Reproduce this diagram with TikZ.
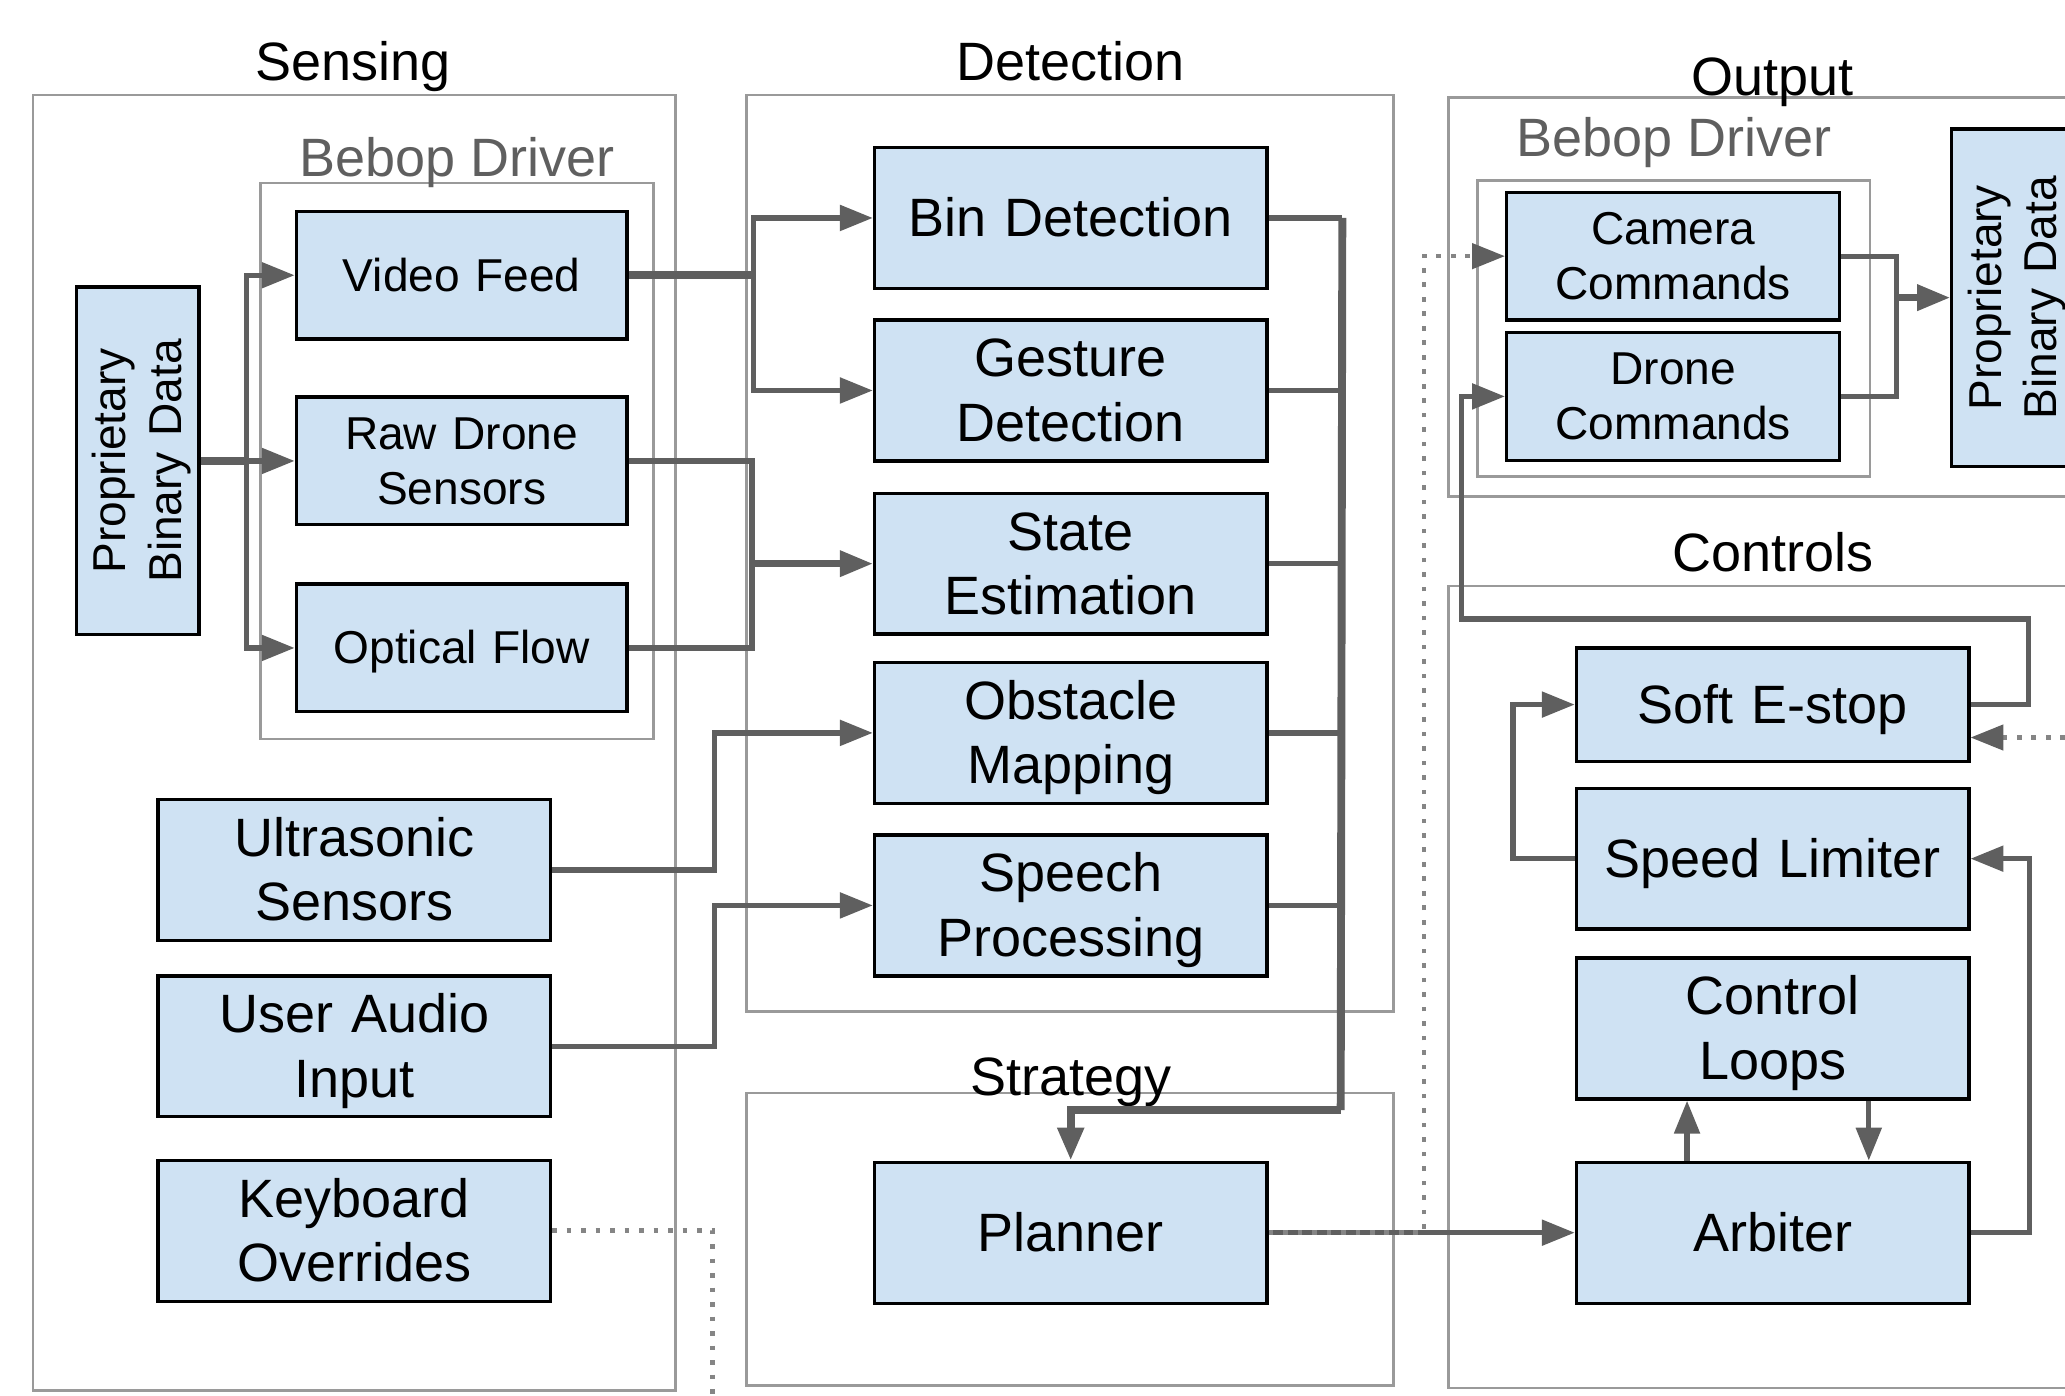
\documentclass[tikz,border=0pt]{standalone}
\usepackage{fontspec}
\setmainfont{Liberation Sans}
\usetikzlibrary{arrows.meta, positioning}

\definecolor{boxblue}{HTML}{CFE2F3}
\definecolor{linegray}{HTML}{5F5F5F}
\definecolor{framegray}{HTML}{9A9A9A}
\definecolor{dotgray}{HTML}{858585}

\begin{document}
\begin{tikzpicture}[x=1pt, y=-1pt,
        block/.style={draw, rectangle, line width=2.5pt, fill=boxblue, align=center, inner sep=0pt, font=\fontsize{41}{49}\selectfont, text width=298pt, minimum height=107pt,
            execute at begin node={\rule{0pt}{0.9em}}, execute at end node={\rule[-0.21em]{0pt}{0pt}}},
        small/.style={block, font=\fontsize{35}{42}\selectfont, text width=251pt, minimum height=97pt},
        group/.style={draw=framegray, line width=2pt},
        title/.style={font=\fontsize{41}{49}\selectfont, execute at begin node={\rule{0pt}{0.9em}}, execute at end node={\rule[-0.21em]{0pt}{0pt}}},
        subtitle/.style={title, text=linegray},
        wire/.style={draw=linegray, line width=4pt},
        bus/.style={wire, line width=6pt},
        arrow/.style={wire, -{Triangle[length=25pt, width=19pt]}},
        hint/.style={draw=dotgray, line width=3.5pt, dash pattern=on 3.5pt off 7.5pt}
    ]
        \useasboundingbox (0,0) rectangle (1568,1060);
        \clip (0,0) rectangle (1568,1060);

        % group frames
        \draw[group] (25,72) rectangle (513,1056);
        \draw[group] (198,139) rectangle (496,561);
        \draw[group] (567,72) rectangle (1058,768);
        \draw[group] (567,830) rectangle (1058,1052);
        \draw[group] (1100,74) rectangle (1590,377);
        \draw[group] (1122,137) rectangle (1420,362);
        \draw[group] (1100,445) rectangle (1590,1054);

        \node[title] (tsense) at (268,47) {Sensing};
        \node[title] (tdetect) at (813,47) {Detection};
        \node[title] (tout) at (1346,58) {Output};
        \node[title] (tstrat) at (813,818) {Strategy};
        \node[title] (tctrl) at (1346,420) {Controls};
        \node[subtitle] (tbebopL) at (347,120) {Bebop Driver};
        \node[subtitle] (tbebopR) at (1271,105) {Bebop Driver};

        % sensing
        \node[small, rotate=90, text width=264pt, minimum height=93pt] (pbdL) at (104.5,350) {Proprietary\\Binary Data};
        \node[small] (vid) at (350.5,209) {Video Feed};
        \node[small] (raw) at (350.5,350) {Raw Drone\\Sensors};
        \node[small] (opt) at (350.5,492) {Optical Flow};
        \node[block] (ultra) at (269,660.5) {Ultrasonic\\Sensors};
        \node[block] (audio) at (269,794.5) {User Audio\\Input};
        \node[block] (keys) at (269,934.5) {Keyboard\\Overrides};

        % detection and strategy
        \node[block] (bin) at (813,165.5) {Bin Detection};
        \node[block] (gest) at (813,296.5) {Gesture\\Detection};
        \node[block] (state) at (813,428) {State\\Estimation};
        \node[block] (obst) at (813,556.5) {Obstacle\\Mapping};
        \node[block] (speech) at (813,687.5) {Speech\\Processing};
        \node[block] (plan) at (813,936) {Planner};

        % output
        \node[small, text width=253pt] (cam) at (1270.5,194.5) {Camera\\Commands};
        \node[small, text width=253pt] (drone) at (1270.5,301) {Drone\\Commands};
        \node[small, rotate=90, text width=256pt, minimum height=93pt] (pbdR) at (1528.5,226) {Proprietary\\Binary Data};

        % controls
        \node[block, minimum height=86pt] (estop) at (1346,535) {Soft E-stop};
        \node[block] (speed) at (1346,652) {Speed Limiter};
        \node[block] (loops) at (1346,781) {Control\\Loops};
        \node[block] (arb) at (1346,936) {Arbiter};

        % driver fan-out
        \draw[bus] (pbdL.south) -- ++(35,0) coordinate (fanL);
        \draw[arrow] (fanL) |- (vid.west);
        \draw[arrow] (fanL) -- (raw.west);
        \draw[arrow] (fanL) |- (opt.west);

        \draw[bus] (vid.east) -- ++(95,0) coordinate (fanV);
        \draw[arrow] (fanV) |- (bin.west);
        \draw[arrow] (fanV) |- (gest.west);

        \coordinate (joinS) at (571,428);
        \draw[wire] (raw.east) -| (joinS);
        \draw[wire] (opt.east) -| (joinS);
        \draw[arrow, line width=5pt] (joinS) -- (state.west);

        \draw[arrow] (ultra.east) -- ++(123,0) |- (obst.west);
        \draw[arrow] (audio.east) -- ++(123,0) |- (speech.west);

        \coordinate (kbEnd) at (541,1060);
        \draw[hint] (keys.east) -| (kbEnd);

        % detectors into planner
        \draw[wire] (bin.east) -- ++(56,0) coordinate (busTop);
        \foreach \n in {gest, state, obst, speech}
            \draw[wire] (\n.east) -- (\n.east -| busTop);
        \coordinate (busBot) at (1018,843);
        \draw[bus] (busTop) -- (busBot);
        \draw[bus, -{Triangle[length=25pt, width=19pt]}] (busBot) -| (plan.north);

        % planner outputs
        \draw[arrow] (plan.east) -- (arb.west);
        \draw[hint, -{Triangle[length=25pt, width=19pt, color=linegray]}] (plan.east) -- ++(118,0) |- (cam.west);

        % bebop output
        \coordinate (joinO) at (1440,226);
        \draw[wire] (cam.east) -| (joinO);
        \draw[wire] (drone.east) -| (joinO);
        \draw[arrow, line width=5pt] (joinO) -- (pbdR.north);

        % controls loop
        \coordinate (eUp) at (1540,470);
        \coordinate (eLeft) at (1110,470);
        \draw[arrow] (estop.east) -| (eUp) -- (eLeft) |- (drone.west);
        \coordinate (eIn) at (1568,560);
        \draw[hint, -{Triangle[length=25pt, width=19pt, color=linegray]}] (eIn) -- (estop.east |- eIn);
        \draw[arrow] (speed.west) -- ++(-47,0) |- (estop.west);
        \draw[arrow] (arb.east) -- ++(45,0) |- (speed.east);
        \draw[arrow] ([xshift=-65pt]arb.north) -- ([xshift=-65pt]loops.south);
        \draw[arrow] ([xshift=73pt]loops.south) -- ([xshift=73pt]arb.north);
    \end{tikzpicture}
\end{document}
